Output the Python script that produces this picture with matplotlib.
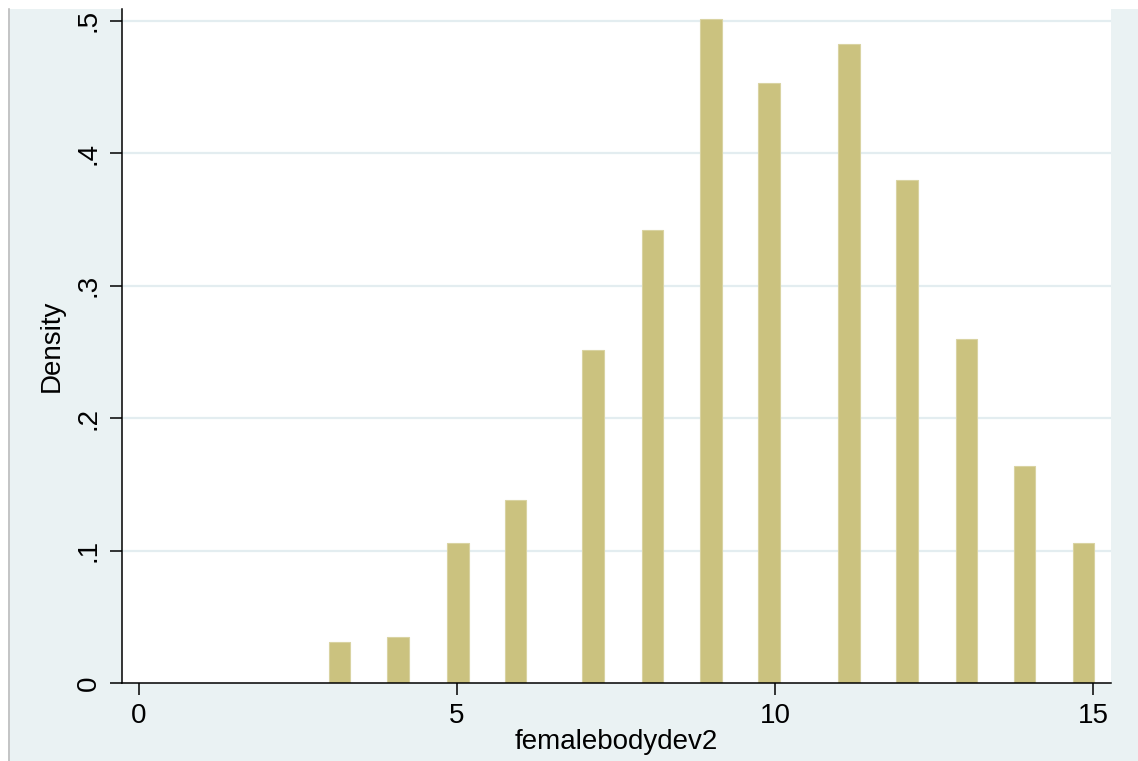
import matplotlib
matplotlib.use("Agg")
import matplotlib.pyplot as plt
from matplotlib.patches import Rectangle
from matplotlib.lines import Line2D

# ---- data ----
bin_centers = [3.15, 4.07, 5.01, 5.92, 7.14, 8.07, 8.99, 9.90, 11.16, 12.07, 13.01, 13.92, 14.85]
density = [0.031, 0.0345, 0.106, 0.138, 0.251, 0.342, 0.501, 0.453, 0.482, 0.380, 0.260, 0.164, 0.106]
x_ticks = [0, 5, 10, 15]
y_ticks = [0, 0.1, 0.2, 0.3, 0.4, 0.5]
y_tick_labels = ["0", ".1", ".2", ".3", ".4", ".5"]
x_title = "femalebodydev2"
y_title = "Density"

W, H = 1138, 761
plt.rcParams['font.family'] = ['Liberation Sans', 'DejaVu Sans']

fig = plt.figure(figsize=(W / 100, H / 100), dpi=100)
fig.patch.set_facecolor('white')

# graph region background (Stata style)
fig.add_artist(Rectangle((8 / W, 0), 1 - 8 / W, (H - 9) / H, transform=fig.transFigure,
                         facecolor='#EAF2F3', edgecolor='none', zorder=0))
fig.add_artist(Line2D([8.5 / W, 8.5 / W], [0, (H - 9) / H], transform=fig.transFigure,
                      color='#BDBDBD', lw=1.2, zorder=1))

ax = fig.add_axes([122 / W, (H - 683) / H, (1111 - 122) / W, (683 - 9) / H])
ax.set_facecolor('white')
ax.set_zorder(2)

for yv in y_ticks[1:]:
    ax.axhline(yv, color='#E3EDF0', lw=1.6, zorder=1)

ax.bar(bin_centers, density, width=0.34, color='#CBC27F', edgecolor='#D9D3A2',
       linewidth=0.8, zorder=2)

ax.set_xlim(-0.267, 15.28)
ax.set_ylim(0, 0.5087)

for s in ['top', 'right']:
    ax.spines[s].set_visible(False)
for s in ['left', 'bottom']:
    ax.spines[s].set_color('black')
    ax.spines[s].set_linewidth(1.1)

ax.set_xticks(x_ticks)
ax.set_xticklabels([str(v) for v in x_ticks])
ax.set_yticks(y_ticks)
ax.set_yticklabels(y_tick_labels, rotation=90, va='center')
ax.tick_params(axis='both', direction='out', length=8.6, width=1.1, color='black',
               labelsize=20, labelcolor='black')
ax.tick_params(axis='x', pad=6)
ax.tick_params(axis='y', pad=6)

ax.set_xlabel(x_title, fontsize=20, labelpad=0)
ax.set_ylabel(y_title, fontsize=20, labelpad=8)

fig.savefig('out.png', dpi=100, facecolor=fig.get_facecolor())
